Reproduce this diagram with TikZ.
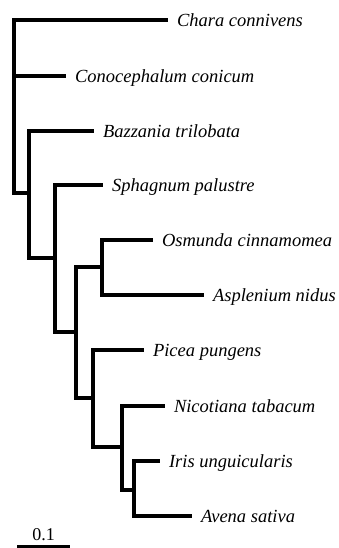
\documentclass[tikz,border=0pt]{standalone}
\usepackage{fontspec}
\setmainfont{Liberation Serif}

\begin{document}
\begin{tikzpicture}[x=1pt,y=-1pt,line width=4pt,line cap=rect,
  taxon/.style={anchor=west,inner xsep=9pt,inner ysep=0pt,
    text height=14pt,text depth=1pt,font=\fontsize{18.5}{20}\selectfont\itshape}]
  \useasboundingbox (0,0) rectangle (339,548);

  % Internal nodes (x = depth, y = where the parent branch joins)
  \coordinate (root) at (14,193);
  \coordinate (nA) at (29,193);
  \coordinate (nB) at (55,258);
  \coordinate (nC) at (76,332);
  \coordinate (nD) at (102,267);
  \coordinate (nE) at (93,398);
  \coordinate (nF) at (122,447);
  \coordinate (nG) at (134,490);

  % Taxa (node west = branch tip)
  \node[taxon] (chara) at (166,20) {Chara connivens};
  \node[taxon] (conoc) at (64,76) {Conocephalum conicum};
  \node[taxon] (bazz) at (92,131) {Bazzania trilobata};
  \node[taxon] (sphag) at (101,185) {Sphagnum palustre};
  \node[taxon] (osmun) at (151,240) {Osmunda cinnamomea};
  \node[taxon] (asplen) at (202,295) {Asplenium nidus};
  \node[taxon] (picea) at (142,350) {Picea pungens};
  \node[taxon] (nicot) at (163,406) {Nicotiana tabacum};
  \node[taxon] (iris) at (158,461) {Iris unguicularis};
  \node[taxon] (avena) at (190,516) {Avena sativa};

  % Branches
  \draw (chara.west) -| (root);
  \draw (conoc.west) -| (root);
  \draw (nA) -| (root);
  \draw (bazz.west) -| (nA);
  \draw (nB) -| (nA);
  \draw (sphag.west) -| (nB);
  \draw (nC) -| (nB);
  \draw (nD) -| (nC);
  \draw (osmun.west) -| (nD);
  \draw (asplen.west) -| (nD);
  \draw (nE) -| (nC);
  \draw (picea.west) -| (nE);
  \draw (nF) -| (nE);
  \draw (nicot.west) -| (nF);
  \draw (nG) -| (nF);
  \draw (iris.west) -| (nG);
  \draw (avena.west) -| (nG);

  % Scale bar
  \coordinate (s0) at (17,547);
  \coordinate (s1) at (70,547);
  \draw[line cap=butt] (s0) -- (s1);
  \node[anchor=base,font=\fontsize{18}{20}\selectfont] (scale) at (43.5,540) {0.1};
\end{tikzpicture}
\end{document}
